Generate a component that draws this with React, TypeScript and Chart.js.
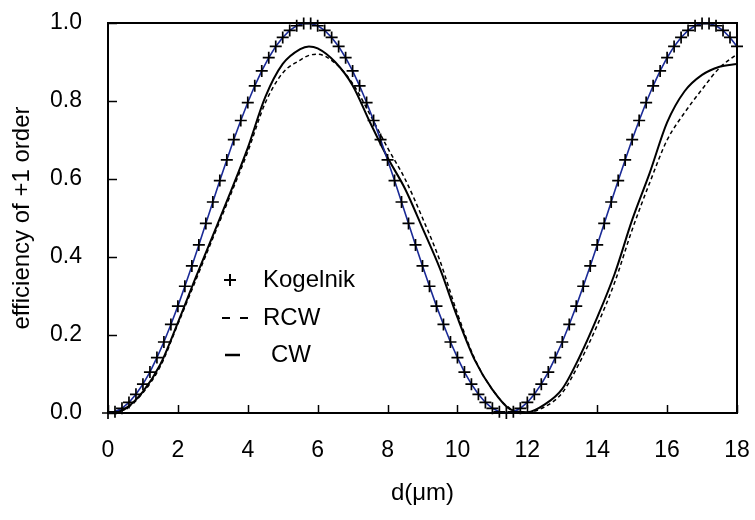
import { useEffect, useRef } from "react";
import { Chart, registerables } from "chart.js";

Chart.register(...registerables);

const FONT = '"Liberation Sans", Arial, sans-serif';

// Series labels (legend order)
const seriesLabels = ["Kogelnik", "RCW", "CW"];

// Kogelnik: thickness d (µm) and efficiency
const kogelnikD = [
  0, 0.2, 0.4, 0.6, 0.8, 1.0, 1.2, 1.4, 1.6, 1.8, 2.0, 2.2, 2.4, 2.6, 2.8, 3.0,
  3.2, 3.4, 3.6, 3.8, 4.0, 4.2, 4.4, 4.6, 4.8, 5.0, 5.2, 5.4, 5.6, 5.8, 6.0,
  6.2, 6.4, 6.6, 6.8, 7.0, 7.2, 7.4, 7.6, 7.8, 8.0, 8.2, 8.4, 8.6, 8.8, 9.0,
  9.2, 9.4, 9.6, 9.8, 10.0, 10.2, 10.4, 10.6, 10.8, 11.0, 11.2, 11.4, 11.6,
  11.8, 12.0, 12.2, 12.4, 12.6, 12.8, 13.0, 13.2, 13.4, 13.6, 13.8, 14.0, 14.2,
  14.4, 14.6, 14.8, 15.0, 15.2, 15.4, 15.6, 15.8, 16.0, 16.2, 16.4, 16.6, 16.8,
  17.0, 17.2, 17.4, 17.6, 17.8, 18.0,
];
const kogelnikEff = [
  0, 0.003, 0.012, 0.027, 0.048, 0.074, 0.105, 0.142, 0.182, 0.227, 0.274,
  0.325, 0.377, 0.431, 0.486, 0.541, 0.596, 0.649, 0.701, 0.75, 0.796, 0.839,
  0.877, 0.911, 0.94, 0.963, 0.981, 0.993, 0.999, 0.999, 0.993, 0.981, 0.963,
  0.94, 0.911, 0.877, 0.839, 0.796, 0.75, 0.701, 0.649, 0.596, 0.541, 0.486,
  0.431, 0.377, 0.325, 0.274, 0.227, 0.182, 0.142, 0.105, 0.074, 0.048, 0.027,
  0.012, 0.003, 0, 0.003, 0.012, 0.027, 0.048, 0.074, 0.105, 0.142, 0.182,
  0.227, 0.274, 0.325, 0.377, 0.431, 0.486, 0.541, 0.596, 0.649, 0.701, 0.75,
  0.796, 0.839, 0.877, 0.911, 0.94, 0.963, 0.981, 0.993, 0.999, 0.999, 0.993,
  0.981, 0.963, 0.94,
];

// Rigorous / coupled-wave results
const waveD = [
  0, 0.5, 1.0, 1.5, 2.0, 2.5, 3.0, 3.5, 4.0, 4.5, 5.0, 5.5, 5.75, 6.0, 6.5,
  7.0, 7.5, 8.0, 8.5, 9.0, 9.5, 10.0, 10.5, 11.0, 11.5, 12.0, 12.5, 13.0, 13.5,
  14.0, 14.5, 15.0, 15.5, 16.0, 16.5, 17.0, 17.5, 18.0,
];
const cwEff = [
  0, 0.012, 0.055, 0.125, 0.232, 0.345, 0.455, 0.565, 0.68, 0.81, 0.895, 0.933,
  0.94, 0.935, 0.9, 0.84, 0.745, 0.655, 0.575, 0.474, 0.37, 0.245, 0.135, 0.06,
  0.01, 0.002, 0.022, 0.062, 0.145, 0.245, 0.357, 0.495, 0.615, 0.745, 0.825,
  0.867, 0.888, 0.895,
];
const rcwEff = [
  0, 0.01, 0.052, 0.12, 0.228, 0.338, 0.448, 0.558, 0.67, 0.795, 0.872, 0.905,
  0.917, 0.92, 0.897, 0.845, 0.765, 0.68, 0.6, 0.5, 0.39, 0.255, 0.138, 0.06,
  0.012, 0.002, 0.016, 0.052, 0.13, 0.225, 0.335, 0.47, 0.59, 0.7, 0.77, 0.83,
  0.885, 0.92,
];

const xTitle = "d(\u03bcm)";
const yTitle = "efficiency of +1 order";

const toPoints = (xs: number[], ys: number[]) => xs.map((x, i) => ({ x, y: ys[i] }));

const framePlugin = {
  id: "frame",
  beforeDatasetsDraw(chart: any) {
    const { ctx, chartArea: a, scales } = chart;
    const x = scales.x;
    const y = scales.y;
    ctx.save();
    ctx.strokeStyle = "#000";
    ctx.lineWidth = 2;
    ctx.strokeRect(a.left, a.top, a.right - a.left, a.bottom - a.top);
    ctx.lineWidth = 1.5;
    x.ticks.forEach((t: any) => {
      const px = Math.round(x.getPixelForValue(t.value)) + 0.5;
      ctx.beginPath();
      ctx.moveTo(px, a.bottom);
      ctx.lineTo(px, a.bottom - 8);
      ctx.stroke();
    });
    y.ticks.forEach((t: any) => {
      const py = Math.round(y.getPixelForValue(t.value)) + 0.5;
      ctx.beginPath();
      ctx.moveTo(a.left, py);
      ctx.lineTo(a.left + 9, py);
      ctx.stroke();
    });
    ctx.restore();
  },
  afterDatasetsDraw(chart: any) {
    const { ctx } = chart;
    const labels = chart.data.datasets.map((d: any) => d.label);
    ctx.save();
    ctx.fillStyle = "#000";
    ctx.strokeStyle = "#000";
    ctx.font = `24px ${FONT}`;
    ctx.textBaseline = "middle";
    ctx.textAlign = "left";
    const rows = [280, 318, 355];
    // Kogelnik marker "+"
    ctx.lineWidth = 2;
    ctx.beginPath();
    ctx.moveTo(224, rows[0]);
    ctx.lineTo(236, rows[0]);
    ctx.moveTo(230, rows[0] - 6);
    ctx.lineTo(230, rows[0] + 6);
    ctx.stroke();
    ctx.fillText(labels[0], 263, rows[0]);
    // RCW "- -"
    ctx.beginPath();
    ctx.moveTo(222, rows[1]);
    ctx.lineTo(230, rows[1]);
    ctx.moveTo(240, rows[1]);
    ctx.lineTo(248, rows[1]);
    ctx.stroke();
    ctx.fillText(labels[1], 263, rows[1]);
    // CW "–"
    ctx.lineWidth = 2.5;
    ctx.beginPath();
    ctx.moveTo(225, rows[2]);
    ctx.lineTo(240, rows[2]);
    ctx.stroke();
    ctx.fillText(labels[2], 271, rows[2]);
    ctx.restore();
  },
};

export default function App() {
  const ref = useRef<HTMLCanvasElement | null>(null);
  useEffect(() => {
    if (!ref.current) return;
    const chart = new Chart(ref.current, {
      type: "line",
      data: {
        datasets: [
          {
            label: seriesLabels[0],
            data: toPoints(kogelnikD, kogelnikEff),
            borderColor: "#1a2a96",
            borderWidth: 1.6,
            pointStyle: "cross",
            pointRadius: 6,
            pointBorderColor: "#000",
            pointBorderWidth: 1.7,
            pointBackgroundColor: "#000",
            tension: 0,
            clip: false,
          } as any,
          {
            label: seriesLabels[1],
            data: toPoints(waveD, rcwEff),
            borderColor: "#000",
            borderWidth: 1.5,
            borderDash: [4, 3],
            pointRadius: 0,
            cubicInterpolationMode: "monotone",
          },
          {
            label: seriesLabels[2],
            data: toPoints(waveD, cwEff),
            borderColor: "#000",
            borderWidth: 2,
            pointRadius: 0,
            cubicInterpolationMode: "monotone",
          },
        ],
      },
      options: {
        responsive: false,
        animation: false,
        layout: { padding: { left: 0, right: 18, top: 23, bottom: 0 } },
        plugins: { legend: { display: false }, tooltip: { enabled: false } },
        scales: {
          x: {
            type: "linear",
            min: 0,
            max: 18,
            grid: { display: false },
            border: { display: false },
            ticks: {
              stepSize: 2,
              color: "#000",
              padding: 16,
              font: { size: 23, family: FONT },
              maxRotation: 0,
            },
            title: {
              display: true,
              text: xTitle,
              color: "#000",
              font: { size: 24, family: FONT },
              padding: { top: 0, bottom: 12 },
            },
            afterFit(scale: any) {
              scale.height = 107;
              scale.paddingLeft = 0;
              scale.paddingRight = 0;
            },
          },
          y: {
            type: "linear",
            min: 0,
            max: 1,
            grid: { display: false },
            border: { display: false },
            ticks: {
              stepSize: 0.2,
              color: "#000",
              padding: 18,
              font: { size: 23, family: FONT },
              callback: (v: any) => Number(v).toFixed(1),
            },
            title: {
              display: true,
              text: yTitle,
              color: "#000",
              font: { size: 24, family: FONT },
              padding: { top: 8, bottom: 0 },
            },
            afterFit(scale: any) {
              scale.width = 108;
              scale.paddingTop = 0;
              scale.paddingBottom = 0;
            },
          },
        },
      },
      plugins: [framePlugin],
    });
    return () => chart.destroy();
  }, []);
  return (
    <div style={{ position: "absolute", left: 0, top: 0, width: 755, height: 520, background: "#fff" }}>
      <canvas ref={ref} width={755} height={520} style={{ width: 755, height: 520 }} />
    </div>
  );
}
